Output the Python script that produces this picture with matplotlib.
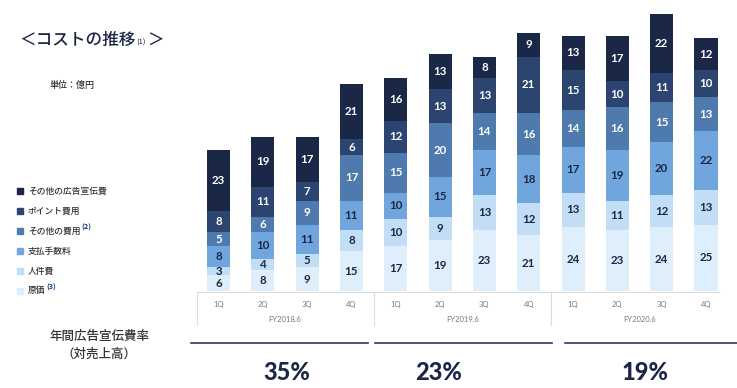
import matplotlib
matplotlib.use("Agg")
import numpy as np
import matplotlib.pyplot as plt
from matplotlib.patches import Rectangle
from matplotlib.lines import Line2D

plt.rcParams['font.family'] = ['Noto Sans CJK JP', 'DejaVu Sans']

# ── Data (億円) ────────────────────────────────────────────────────────────────
quarters     = ["1Q", "2Q", "3Q", "4Q"] * 3
fiscal_years = ["FY2018.6", "FY2019.6", "FY2020.6"]

cost_of_sales = [6, 8, 9, 15, 17, 19, 23, 21, 24, 23, 24, 25]
personnel     = [3, 4, 5, 8, 10, 9, 13, 12, 13, 11, 12, 13]
fees          = [8, 10, 11, 11, 10, 15, 17, 18, 17, 19, 20, 22]
other_costs   = [5, 6, 9, 17, 15, 20, 14, 16, 14, 16, 15, 13]
points        = [8, 11, 7, 6, 12, 13, 13, 21, 15, 10, 11, 10]
other_ads     = [23, 19, 17, 21, 16, 13, 8, 9, 13, 17, 22, 12]

ad_ratio = ["35%", "23%", "19%"]

series = [
    ("原価",             cost_of_sales, "#deeefb", "#1b2746", "(3)"),
    ("人件費",           personnel,     "#c2ddf6", "#1b2746", ""),
    ("支払手数料",       fees,          "#70a5dd", "#1b2746", ""),
    ("その他の費用",     other_costs,   "#4e7aae", "white",   "(2)"),
    ("ポイント費用",     points,        "#2c4470", "white",   ""),
    ("その他の広告宣伝費", other_ads,   "#1b2746", "white",   ""),
]

W, H = 737, 388
fig = plt.figure(figsize=(W / 100, H / 100), dpi=100)

def fx(px):
    return px / W

def fy(py):
    return 1 - py / H

# ── Bars ───────────────────────────────────────────────────────────────────────
base_px = 291
ax = fig.add_axes([fx(197), fy(base_px), fx(728) - fx(197), base_px / H])
ax.set_xlim(-0.485, 11.496)
ax.set_ylim(0, base_px / 2.66)
ax.axis("off")

x = np.arange(len(quarters))
bottom = np.zeros(len(quarters))
for name, vals, col, tcol, _ in series:
    vals = np.array(vals, dtype=float)
    ax.bar(x, vals, 0.52, bottom=bottom, color=col, edgecolor="none")
    for xi, b, v in zip(x, bottom, vals):
        ax.text(xi, b + v / 2, f"{int(v)}", ha="center", va="center",
                color=tcol, fontsize=8.3, fontweight="bold", family="Lato")
    bottom += vals

# ── Category box under bars ────────────────────────────────────────────────────
tr = ax.get_xaxis_transform()
ax.plot([-0.485, 11.3], [-0.003, -0.003], color="#dcdcdc", lw=0.8,
        transform=tr, clip_on=False)
for xs in [-0.485, 3.5, 7.5]:
    ax.plot([xs, xs], [-0.003, -0.117], color="#dcdcdc", lw=0.8,
            transform=tr, clip_on=False)
for xi, q in zip(x, quarters):
    ax.text(xi, -(304 - base_px) / base_px, q, ha="center", va="center",
            fontsize=5.5, color="#7a7a7a", transform=tr, family="Lato")
for i, fy_label in enumerate(fiscal_years):
    ax.text(1.5 + 4 * i, -(319 - base_px) / base_px, fy_label, ha="center",
            va="center", fontsize=5.5, color="#7a7a7a", transform=tr, family="Lato")

# ── Title / unit ───────────────────────────────────────────────────────────────
t = fig.text(fx(19), fy(40), "＜コストの推移", fontsize=12, color="#1b2746",
             va="center", ha="left", fontweight="medium")
fig.canvas.draw()
r = fig.canvas.get_renderer()
bb = t.get_window_extent(r)
t2 = fig.text(bb.x1 / W + fx(1), fy(43), "(1)", fontsize=5.5, color="#1b2746",
              va="center", ha="left")
bb2 = t2.get_window_extent(r)
fig.text(bb2.x1 / W + fx(1), fy(40), "＞", fontsize=12, color="#1b2746",
         va="center", ha="left", fontweight="medium")
fig.text(fx(50), fy(85), "単位：億円", fontsize=6.5, color="#333333",
         va="center", ha="left", fontweight="medium")

# ── Legend ─────────────────────────────────────────────────────────────────────
leg_y = [291, 271, 251, 231, 211, 191]
for (name, vals, col, tcol, sup), ly in zip(series, leg_y):
    fig.patches.append(Rectangle((fx(17), fy(ly + 3)), fx(6), 6 / H,
                                 color=col, transform=fig.transFigure))
    lt = fig.text(fx(28), fy(ly), name, fontsize=6.3, color="#333333",
                  va="center", ha="left", fontweight="medium")
    if sup:
        lb = lt.get_window_extent(r)
        fig.text(lb.x1 / W + fx(1), fy(ly - 4), sup, fontsize=5.3, color="#1b3a7a",
                 fontweight="bold", va="center", ha="left")

# ── Ad ratio row ───────────────────────────────────────────────────────────────
fig.text(fx(99), fy(336), "年間広告宣伝費率", fontsize=9, color="#333333",
         ha="center", va="center", fontweight="medium")
fig.text(fx(99), fy(354), "（対売上高）", fontsize=9, color="#333333",
         ha="center", va="center", fontweight="medium")
line_spans = [(191, 368), (375, 552), (565, 737)]
pct_x = [287, 439, 645]
for (x0, x1), px, lab in zip(line_spans, pct_x, ad_ratio):
    fig.add_artist(Line2D([fx(x0), fx(x1)], [fy(343), fy(343)], color="#2b3a5c",
                          lw=1.2, transform=fig.transFigure))
    fig.text(fx(px), fy(372), lab, fontsize=17, fontweight="black", color="#1b2746",
             ha="center", va="center", family="Lato")

fig.savefig("out.png", dpi=100)
